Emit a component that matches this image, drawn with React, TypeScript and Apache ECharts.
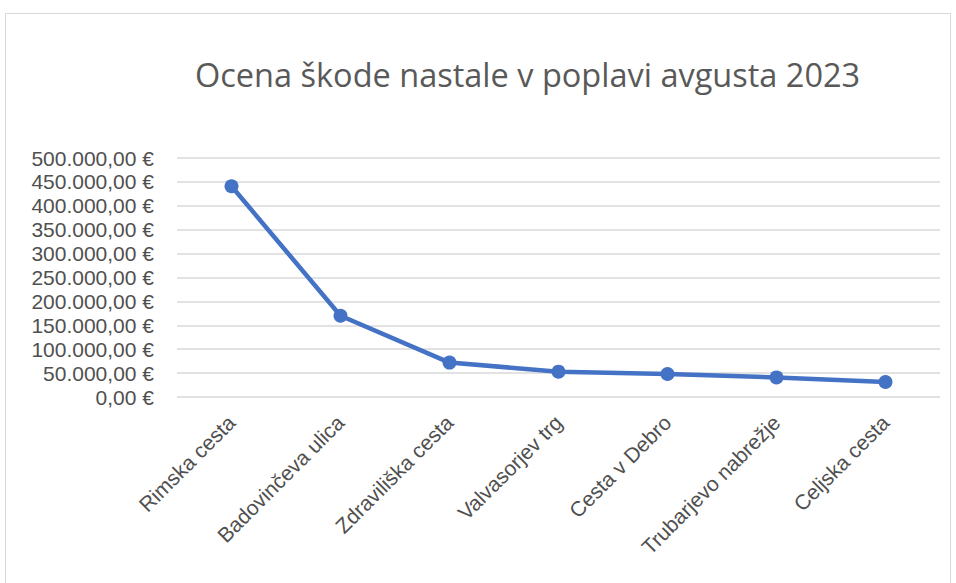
import React, { useEffect, useRef } from "react";
import * as echarts from "echarts";

const title = "Ocena škode nastale v poplavi avgusta 2023";
const categories = [
  "Rimska cesta",
  "Badovinčeva ulica",
  "Zdraviliška cesta",
  "Valvasorjev trg",
  "Cesta v Debro",
  "Trubarjevo nabrežje",
  "Celjska cesta",
];
const damage = [441000, 170000, 72000, 53000, 48000, 41000, 31500];
const yMin = 0;
const yMax = 500000;
const yStep = 50000;

function formatEuro(v: number): string {
  const fixed = v.toFixed(2);
  const [intPart, dec] = fixed.split(".");
  const withDots = intPart.replace(/\B(?=(\d{3})+(?!\d))/g, ".");
  return `${withDots},${dec} €`;
}

export default function App() {
  const ref = useRef<HTMLDivElement>(null);
  useEffect(() => {
    document.body.style.margin = "0";
    const chart = echarts.init(ref.current!, null, { renderer: "svg" });
    const font = "'Open Sans', 'Noto Sans', sans-serif";
    const axisFont = "'Liberation Sans', Arial, sans-serif";
    chart.setOption({
      animation: false,
      backgroundColor: "#ffffff",
      textStyle: { fontFamily: font },
      title: {
        text: title,
        left: 190,
        top: 53,
        textStyle: { fontFamily: font, fontSize: 32.5, fontWeight: "normal", color: "#595959" },
      },
      graphic: [
        {
          type: "rect",
          shape: { x: 5.5, y: 13.5, width: 945, height: 600 },
          style: { fill: "none", stroke: "#d9d9d9", lineWidth: 1 },
          silent: true,
        },
      ],
      grid: { left: 177, right: 16, top: 158, bottom: 186 },
      xAxis: {
        type: "category",
        data: categories,
        boundaryGap: true,
        axisLine: { show: false },
        axisTick: { show: false },
        axisLabel: {
          rotate: 45,
          interval: 0,
          margin: 22,
          fontSize: 21,
          color: "#505050",
          fontFamily: axisFont,
        },
      },
      yAxis: {
        type: "value",
        min: yMin,
        max: yMax,
        interval: yStep,
        axisLine: { show: false },
        axisTick: { show: false },
        splitLine: { lineStyle: { color: "#d9d9d9", width: 1.5 } },
        axisLabel: {
          formatter: (v: number) => formatEuro(v),
          fontSize: 21,
          lineHeight: 21,
          margin: 23,
          color: "#505050",
          fontFamily: axisFont,
        },
      },
      series: [
        {
          type: "line",
          data: damage,
          symbol: "circle",
          symbolSize: 14,
          lineStyle: { color: "#4472C4", width: 4.5 },
          itemStyle: { color: "#4472C4" },
        },
      ],
    });
    return () => chart.dispose();
  }, []);
  return <div ref={ref} style={{ width: 956, height: 583 }} />;
}
